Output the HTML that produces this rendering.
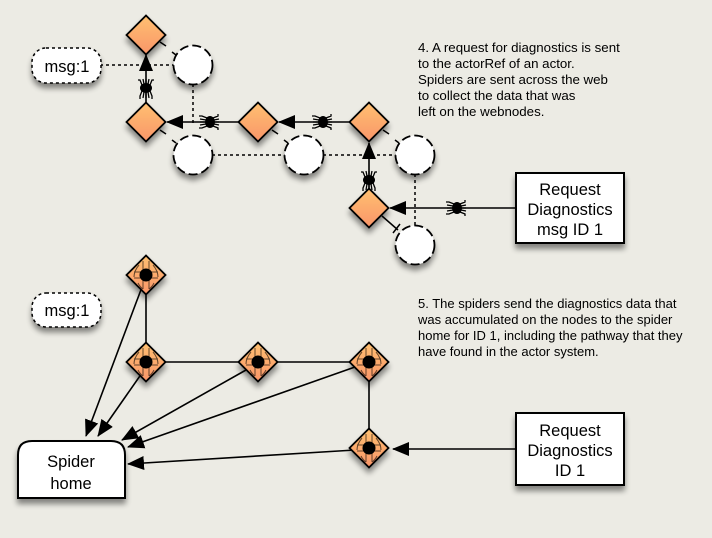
<!DOCTYPE html>
<html><head><meta charset="utf-8"><style>
html,body{margin:0;padding:0;background:#ecebe4;}
svg{display:block;}
text{font-family:"Liberation Sans",sans-serif;fill:#000;}
</style></head><body>
<svg width="712" height="538" viewBox="0 0 712 538" xmlns="http://www.w3.org/2000/svg">
<defs>
<linearGradient id="og" x1="0" y1="0" x2="0" y2="1">
<stop offset="0" stop-color="#ffc070"/><stop offset="1" stop-color="#f9956a"/>
</linearGradient>
<filter id="sh" x="-40%" y="-40%" width="180%" height="180%">
<feGaussianBlur in="SourceAlpha" stdDeviation="3"/><feOffset dx="0" dy="5"/>
<feComponentTransfer><feFuncA type="linear" slope="0.45"/></feComponentTransfer>
<feMerge><feMergeNode/><feMergeNode in="SourceGraphic"/></feMerge>
</filter>
<marker id="ar" markerWidth="17" markerHeight="14" refX="16" refY="7" orient="auto" markerUnits="userSpaceOnUse">
<path d="M0,0 L17,7 L0,14 Z" fill="#000"/>
</marker>
<g id="spH">
<ellipse cx="0" cy="0" rx="6" ry="5" fill="#000"/>
<path d="M-4,-3 L-6,-8 L-8,-8 M0,-4 L0,-9 M4,-3 L6,-8 L8,-8 M-4,3 L-6,8 L-6,11 M0,4 L0,10 M4,3 L6,8 L6,11 M-2,-4 L-3,-9 M2,-4 L3,-9 M-2,4 L-3,10 M2,4 L3,10" stroke="#000" stroke-width="1.3" fill="none"/>
</g>
<g id="dia">
<path d="M0,-19.5 L19.5,0 L0,19.5 L-19.5,0 Z" fill="url(#og)" stroke="#000" stroke-width="1.8"/>
</g>
<g id="dsp">
<path d="M0,-19.5 L19.5,0 L0,19.5 L-19.5,0 Z" fill="url(#og)" stroke="#000" stroke-width="1.8"/>
<path d="M-7,-10 Q-12,-4 -12,2 M7,-10 Q12,-4 12,2 M-3,-14 L-3,14 M3,-14 L3,14 M-12,-3 L12,-3 M-12,3 L12,3 M-8,8 Q-6,12 -3,14 M8,8 Q6,12 3,14" stroke="#000" stroke-width="1" fill="none" opacity="0.6"/>
<circle cx="0" cy="0" r="6.5" fill="#000"/>
</g>
<g id="cir">
<circle cx="0" cy="0" r="19.5" fill="#fff" stroke="#000" stroke-width="1.8" stroke-dasharray="9,4"/>
</g>
</defs>

<g stroke="#000" stroke-width="1.5" stroke-dasharray="3,3" fill="none">
<line x1="100" y1="65" x2="174" y2="65"/>
<line x1="193" y1="84" x2="193" y2="125"/>
<line x1="212" y1="155" x2="285" y2="155"/>
<line x1="323" y1="155" x2="396" y2="155"/>
<line x1="415" y1="174" x2="415" y2="226"/>
</g>
<g stroke="#000" stroke-width="1.5">
<line x1="160" y1="42" x2="166" y2="46"/><line x1="172" y1="52" x2="176" y2="55"/>
<line x1="160" y1="130" x2="166" y2="134"/><line x1="172" y1="140" x2="176" y2="143"/>
<line x1="272" y1="130" x2="278" y2="134"/><line x1="284" y1="140" x2="288" y2="143"/>
<line x1="383" y1="130" x2="389" y2="134"/><line x1="395" y1="140" x2="399" y2="143"/>
<line x1="382" y1="216" x2="398" y2="230"/><line x1="393" y1="233" x2="400" y2="224"/>
</g>
<g stroke="#000" stroke-width="1.6" fill="none">
<line x1="146" y1="103" x2="146" y2="55" marker-end="url(#ar)"/>
<line x1="239" y1="122" x2="167" y2="122" marker-end="url(#ar)"/>
<line x1="350" y1="122" x2="279" y2="122" marker-end="url(#ar)"/>
<line x1="369" y1="189" x2="369" y2="143" marker-end="url(#ar)"/>
<line x1="516" y1="208" x2="390" y2="208" marker-end="url(#ar)"/>
</g>
<use href="#spH" transform="translate(146,88)"/>
<use href="#spH" transform="translate(210,122) rotate(90)"/>
<use href="#spH" transform="translate(323,122) rotate(90)"/>
<use href="#spH" transform="translate(369,180)"/>
<use href="#spH" transform="translate(457,208) rotate(90)"/>

<g filter="url(#sh)">
<use href="#dia" transform="translate(146,35)"/>
<use href="#dia" transform="translate(146,122)"/>
<use href="#dia" transform="translate(258,122)"/>
<use href="#dia" transform="translate(369,122)"/>
<use href="#dia" transform="translate(369,208)"/>
<use href="#cir" transform="translate(193,65)"/>
<use href="#cir" transform="translate(193,155)"/>
<use href="#cir" transform="translate(304,155)"/>
<use href="#cir" transform="translate(415,155)"/>
<use href="#cir" transform="translate(415,245)"/>
<rect x="32" y="48" width="69" height="35" rx="14" fill="#fff" stroke="#000" stroke-width="1.5" stroke-dasharray="3,3"/>
<rect x="516" y="173" width="108" height="70" fill="#fff" stroke="#000" stroke-width="2"/>
</g>
<text x="67" y="72" font-size="16.5" text-anchor="middle">msg:1</text>
<g font-size="16.5" text-anchor="middle">
<text x="570" y="195">Request</text>
<text x="570" y="215">Diagnostics</text>
<text x="570" y="235">msg ID 1</text>
</g>
<g font-size="13.3">
<text x="418" y="52">4. A request for diagnostics is sent</text>
<text x="418" y="68">to the actorRef of an actor.</text>
<text x="418" y="84">Spiders are sent across the web</text>
<text x="418" y="100">to collect the data that was</text>
<text x="418" y="116">left on the webnodes.</text>
</g>

<g stroke="#000" stroke-width="1.6" fill="none">
<line x1="146" y1="294" x2="146" y2="343"/>
<line x1="165" y1="362" x2="239" y2="362"/>
<line x1="277" y1="362" x2="350" y2="362"/>
<line x1="369" y1="381" x2="369" y2="429"/>
<line x1="142" y1="287" x2="86" y2="436" marker-end="url(#ar)"/>
<line x1="142" y1="373" x2="98" y2="436" marker-end="url(#ar)"/>
<line x1="246" y1="370" x2="122" y2="440" marker-end="url(#ar)"/>
<line x1="355" y1="367" x2="128" y2="447" marker-end="url(#ar)"/>
<line x1="355" y1="450" x2="128" y2="464" marker-end="url(#ar)"/>
<line x1="516" y1="449" x2="393" y2="449" marker-end="url(#ar)"/>
</g>
<g filter="url(#sh)">
<use href="#dsp" transform="translate(146,275)"/>
<use href="#dsp" transform="translate(146,362)"/>
<use href="#dsp" transform="translate(258,362)"/>
<use href="#dsp" transform="translate(369,362)"/>
<use href="#dsp" transform="translate(369,448)"/>
<rect x="32" y="293" width="69" height="34" rx="14" fill="#fff" stroke="#000" stroke-width="1.5" stroke-dasharray="3,3"/>
<rect x="516" y="413" width="108" height="72" fill="#fff" stroke="#000" stroke-width="2"/>
<path d="M18,498 L18,455 Q18,441 32,441 L111,441 Q125,441 125,455 L125,498 Z" fill="#fff" stroke="#000" stroke-width="2"/>
</g>
<text x="67" y="316" font-size="16.5" text-anchor="middle">msg:1</text>
<g font-size="16.5" text-anchor="middle">
<text x="570" y="436">Request</text>
<text x="570" y="456">Diagnostics</text>
<text x="570" y="476">ID 1</text>
<text x="71" y="467">Spider</text>
<text x="71" y="489">home</text>
</g>
<g font-size="13">
<text x="418" y="308">5. The spiders send the diagnostics data that</text>
<text x="418" y="324">was accumulated on the nodes to the spider</text>
<text x="418" y="340">home for ID 1, including the pathway that they</text>
<text x="418" y="356">have found in the actor system.</text>
</g>
</svg>
</body></html>
